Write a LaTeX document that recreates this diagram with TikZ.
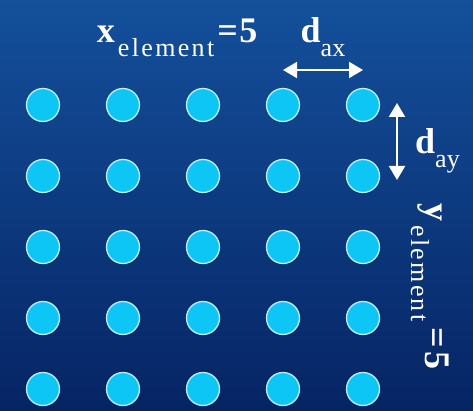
\documentclass[tikz,border=0pt]{standalone}
\usepackage{fontspec}
\setmainfont{Liberation Serif}
\usetikzlibrary{arrows.meta,positioning,calc}
\definecolor{bgTop}{RGB}{20,80,155}
\definecolor{bgBottom}{RGB}{6,36,100}
\definecolor{dotCyan}{RGB}{14,198,245}
\definecolor{dotRim}{RGB}{190,240,255}
\newcommand{\subtext}[1]{\raisebox{-14pt}{\fontsize{26}{26}\selectfont #1}}
\newcommand{\spread}{\addfontfeature{LetterSpace=9}}
\tikzset{
  gridDot/.style={
    circle, fill=dotCyan, draw=dotRim, line width=1.3pt,
    minimum size=33pt, inner sep=0pt
  },
  dimArrow/.style={
    {Triangle[width=16pt,length=14pt]}-{Triangle[width=16pt,length=14pt]},
    line width=2pt, draw=white
  },
  dimLabel/.style={text=white, inner sep=0pt, font=\fontsize{36}{36}\selectfont}
}

\begin{document}
\begin{tikzpicture}[x=1pt, y=-1pt]
  \shade[top color=bgTop, bottom color=bgBottom] (0,0) rectangle (473,411);
  \useasboundingbox (0,0) rectangle (473,411);
  % 5 x 5 array of elements
  \foreach \r in {1,...,5}
    \foreach \c in {1,...,5}
      \node[gridDot] (e\r\c) at ({43+80*(\c-1)}, {105+71*(\r-1)}) {};
  % spacing along x
  \coordinate (ax-a) at ($(e14)+(0,-35)$);
  \coordinate (ax-b) at ($(e15)+(0,-35)$);
  \coordinate (ax-mid) at ($(ax-a)!0.5!(ax-b)$);
  \draw[dimArrow] (ax-a) -- (ax-b);
  \node[dimLabel, above=13pt of ax-mid] (dax) {\textbf{d}\subtext{ax}};
  \node[dimLabel, base left=43pt of dax] (xel)
    {\textbf{x}\kern3pt\subtext{\spread element}\kern3pt\textbf{=\kern1.5pt5}};
  % spacing along y
  \coordinate (ay-a) at ($(e15)+(34,-2)$);
  \coordinate (ay-b) at ($(e25)+(34,4)$);
  \coordinate (ay-mid) at ($(ay-a)!0.5!(ay-b)$);
  \draw[dimArrow] (ay-a) -- (ay-b);
  \node[dimLabel, right=18pt of ay-mid, yshift=-9.5pt] (day) {\textbf{d}\subtext{ay}};
  \node[dimLabel, rotate=-90, anchor=base west] (yel) at ($(e25)+(62,27)$)
    {\textbf{y}\kern4pt\subtext{\spread element}\kern6pt\textbf{=\kern3pt5}};
\end{tikzpicture}
\end{document}
